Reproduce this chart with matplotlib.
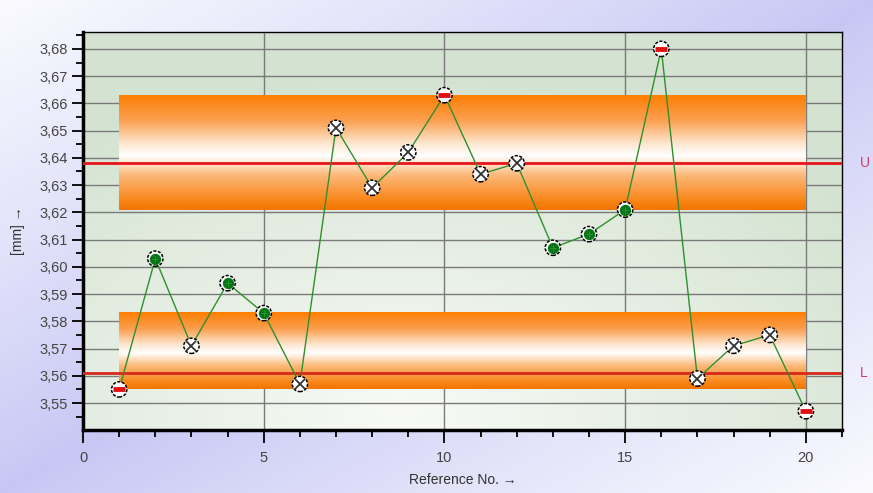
import numpy as np
import matplotlib
matplotlib.use("Agg")
import matplotlib.pyplot as plt
from matplotlib.colors import LinearSegmentedColormap
from matplotlib.ticker import MultipleLocator, FuncFormatter

# ---- data ----
ref_no = list(range(1, 21))
values = [3.555, 3.603, 3.571, 3.594, 3.583, 3.557, 3.651, 3.629, 3.642, 3.663,
          3.634, 3.638, 3.607, 3.612, 3.621, 3.680, 3.559, 3.571, 3.575, 3.547]
# marker kind: 'r' outside, 'g' between bands, 'x' inside band
kinds = ['r', 'g', 'x', 'g', 'g', 'x', 'x', 'x', 'x', 'r',
         'x', 'x', 'g', 'g', 'g', 'r', 'x', 'x', 'x', 'r']
upper_band = (3.621, 3.663)
lower_band = (3.555, 3.583)
band_x = (1, 20)
U_value = 3.638
L_value = 3.561
x_ticks = [0, 5, 10, 15, 20]

FONT = ['Liberation Sans', 'DejaVu Sans']
plt.rcParams['font.family'] = FONT
fig = plt.figure(figsize=(8.73, 4.93), dpi=100)

# figure background gradient: lavender along the bottom-left -> top-right diagonal
bg = fig.add_axes([0, 0, 1, 1], zorder=-10)
bg.axis('off')
h, w = 100, 200
yy, xx = np.mgrid[0:1:h*1j, 0:1:w*1j]   # yy measured from top
t = np.clip(np.abs(xx + yy - 1.0) * 0.95, 0, 1) ** 0.9
c1 = np.array([0.78, 0.78, 0.96])
c2 = np.array([0.99, 0.99, 1.0])
img = c1[None, None, :] * (1 - t[..., None]) + c2[None, None, :] * t[..., None]
bg.imshow(img, aspect='auto', extent=[0, 1, 0, 1], origin='upper')
bg.set_xlim(0, 1); bg.set_ylim(0, 1)

ax = fig.add_axes([0.0951, 0.1278, 0.8694, 0.8073])

# axes background gradient (greenish top/right, whiter lower middle)
yy2, xx2 = np.mgrid[0:1:h*1j, 0:1:w*1j]
d = np.clip(np.sqrt(((xx2 - 0.42) / 0.75) ** 2 + ((yy2 - 0.95) / 0.85) ** 2), 0, 1)
g1 = np.array([0.975, 0.98, 0.965])
g2 = np.array([0.83, 0.89, 0.82])
img2 = g1[None, None, :] * (1 - d[..., None]) + g2[None, None, :] * d[..., None]
ax.imshow(img2, aspect='auto', extent=[0, 21, 3.5401, 3.6862], origin='upper', zorder=0)

# grid
ax.yaxis.set_major_locator(MultipleLocator(0.01))
ax.yaxis.set_minor_locator(MultipleLocator(0.005))
ax.xaxis.set_minor_locator(MultipleLocator(1))
ax.set_xticks(x_ticks)
for yv in np.arange(3.55, 3.6801, 0.01):
    ax.axhline(yv, color='#7a7a7a', lw=1.0, zorder=1)
for xv in x_ticks[1:]:
    ax.axvline(xv, color='#7a7a7a', lw=1.0, zorder=1)

# bands
band_cmap = LinearSegmentedColormap.from_list(
    'band', [(0.0, '#f27400'), (0.1, '#f98a20'), (0.3, '#fcb878'), (0.47, '#ffffff'),
             (0.58, '#fde6cf'), (0.78, '#fba050'), (0.92, '#fb8a20'), (1.0, '#ff8000')])
grad = np.linspace(0, 1, 256)[:, None]
for lo, hi in (upper_band, lower_band):
    ax.imshow(grad, cmap=band_cmap, aspect='auto', origin='lower',
              extent=[band_x[0], band_x[1], lo, hi], zorder=2, interpolation='bilinear')

# limit lines
ax.axhline(U_value, color='#e8141c', lw=2.0, zorder=3)
ax.axhline(L_value, color='#d8281c', lw=2.0, zorder=3)
ax.text(1.024, U_value, 'U', transform=ax.get_yaxis_transform(), color='#d0406a',
        fontsize=10, va='center', ha='left')
ax.text(1.024, L_value, 'L', transform=ax.get_yaxis_transform(), color='#d0406a',
        fontsize=10, va='center', ha='left')

# data line
ax.plot(ref_no, values, color='#2f8f2f', lw=1.0, zorder=4)

# markers
xs = np.array(ref_no); vs = np.array(values); ks = np.array(kinds)
ax.scatter(xs, vs, s=11 ** 2, c='white', edgecolors='black', linewidths=1.1,
           linestyles=(0, (2, 1)), zorder=5)
m = ks == 'x'
ax.plot(xs[m], vs[m], 'x', ms=6.5, mec='#333333', mew=1.3, ls='none', zorder=6)
m = ks == 'g'
ax.plot(xs[m], vs[m], 'o', ms=7.2, mfc='#0a7a1a', mec='#0a7a1a', ls='none', zorder=6)
ax.plot(xs[m], vs[m], 'P', ms=6, mfc='#1a9a2a', mec='#056010', mew=0.5, ls='none', zorder=7)
m = ks == 'r'
ax.plot(xs[m], vs[m], '_', ms=8, mec='#e01010', mew=3.5, ls='none', zorder=6)

ax.set_xlim(0, 21)
ax.set_ylim(3.5401, 3.6862)

# spines & ticks
for s in ['left', 'bottom']:
    ax.spines[s].set_linewidth(2.5)
for s in ['top', 'right']:
    ax.spines[s].set_linewidth(1.0)
ax.tick_params(axis='both', which='major', length=8, width=1.3, color='black',
               labelsize=10.5, labelcolor='#444444', direction='out', pad=3)
ax.tick_params(axis='both', which='minor', length=5, width=1.3, color='black', direction='out')
ax.tick_params(axis='x', which='major', length=9, pad=6)
ax.yaxis.set_major_formatter(FuncFormatter(lambda v, p: f"{v:.2f}".replace('.', ',')))

ax.set_xlabel('Reference No. →', fontsize=10, color='#333333', labelpad=6)
ax.set_ylabel('[mm] →', fontsize=10, color='#333333', labelpad=10)

fig.savefig('out.png', dpi=100)
